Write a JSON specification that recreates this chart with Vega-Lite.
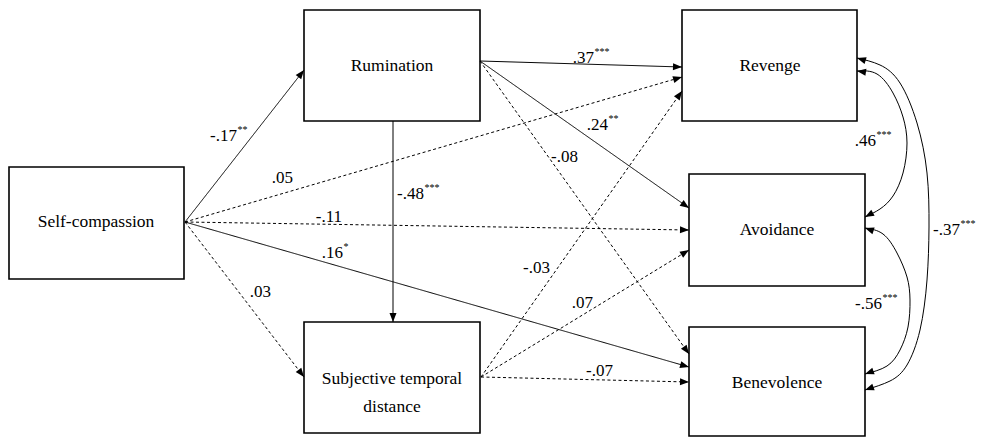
{
  "$schema": "https://vega.github.io/schema/vega-lite/v6.json",
  "width": 983,
  "height": 438,
  "padding": 0,
  "autosize": {"type": "fit", "contains": "padding"},
  "background": "white",
  "config": {"view": {"stroke": null}, "font": "Liberation Serif, Times New Roman, serif"},
  "datasets": {
    "nodes": [
      {"id": "Self-compassion", "x1": 9, "x2": 184, "y1": 167, "y2": 279, "tx": 96, "ty": 222},
      {"id": "Rumination", "x1": 304, "x2": 480, "y1": 10, "y2": 121, "tx": 392, "ty": 66},
      {"id": "Subjective temporal\ndistance", "x1": 304, "x2": 480, "y1": 322, "y2": 433, "tx": 392, "ty": 379},
      {"id": "Revenge", "x1": 682, "x2": 857, "y1": 10, "y2": 121, "tx": 770, "ty": 66},
      {"id": "Avoidance", "x1": 689, "x2": 865, "y1": 174, "y2": 286, "tx": 777, "ty": 230},
      {"id": "Benevolence", "x1": 689, "x2": 865, "y1": 327, "y2": 436, "tx": 777, "ty": 383}
    ],
    "edges": [
      {"from": "SC", "to": "Rum", "x1": 185, "y1": 222, "x2": 304, "y2": 70, "style": "solid"},
      {"from": "SC", "to": "Rev", "x1": 185, "y1": 222, "x2": 682, "y2": 77, "style": "dashed"},
      {"from": "SC", "to": "Avo", "x1": 185, "y1": 222, "x2": 689, "y2": 230, "style": "dashed"},
      {"from": "SC", "to": "Ben", "x1": 185, "y1": 222, "x2": 689, "y2": 367, "style": "solid"},
      {"from": "SC", "to": "STD", "x1": 185, "y1": 222, "x2": 304, "y2": 377, "style": "dashed"},
      {"from": "Rum", "to": "Rev", "x1": 480, "y1": 61, "x2": 682, "y2": 67, "style": "solid"},
      {"from": "Rum", "to": "Avo", "x1": 480, "y1": 61, "x2": 689, "y2": 208, "style": "solid"},
      {"from": "Rum", "to": "Ben", "x1": 480, "y1": 61, "x2": 689, "y2": 354, "style": "dashed"},
      {"from": "Rum", "to": "STD", "x1": 393, "y1": 121, "x2": 393, "y2": 322, "style": "solid"},
      {"from": "STD", "to": "Rev", "x1": 481, "y1": 377, "x2": 682, "y2": 91, "style": "dashed"},
      {"from": "STD", "to": "Avo", "x1": 481, "y1": 377, "x2": 689, "y2": 250, "style": "dashed"},
      {"from": "STD", "to": "Ben", "x1": 481, "y1": 377, "x2": 689, "y2": 382, "style": "dashed"}
    ],
    "curves": [
      {"c": "A", "i": 0, "x": 857, "y": 58},
      {"c": "A", "i": 1, "x": 880, "y": 65},
      {"c": "A", "i": 2, "x": 900, "y": 83},
      {"c": "A", "i": 3, "x": 917, "y": 123},
      {"c": "A", "i": 4, "x": 927, "y": 173},
      {"c": "A", "i": 5, "x": 929, "y": 227},
      {"c": "A", "i": 6, "x": 927, "y": 280},
      {"c": "A", "i": 7, "x": 920, "y": 330},
      {"c": "A", "i": 8, "x": 907, "y": 365},
      {"c": "A", "i": 9, "x": 890, "y": 381},
      {"c": "A", "i": 10, "x": 865, "y": 390},
      {"c": "B", "i": 0, "x": 857, "y": 71},
      {"c": "B", "i": 1, "x": 877, "y": 74},
      {"c": "B", "i": 2, "x": 893, "y": 93},
      {"c": "B", "i": 3, "x": 903, "y": 117},
      {"c": "B", "i": 4, "x": 907, "y": 143},
      {"c": "B", "i": 5, "x": 903, "y": 173},
      {"c": "B", "i": 6, "x": 893, "y": 196},
      {"c": "B", "i": 7, "x": 880, "y": 209},
      {"c": "B", "i": 8, "x": 865, "y": 217},
      {"c": "C", "i": 0, "x": 865, "y": 228},
      {"c": "C", "i": 1, "x": 883, "y": 234},
      {"c": "C", "i": 2, "x": 897, "y": 253},
      {"c": "C", "i": 3, "x": 907, "y": 277},
      {"c": "C", "i": 4, "x": 910, "y": 300},
      {"c": "C", "i": 5, "x": 908, "y": 327},
      {"c": "C", "i": 6, "x": 900, "y": 350},
      {"c": "C", "i": 7, "x": 887, "y": 366},
      {"c": "C", "i": 8, "x": 865, "y": 374}
    ],
    "cheads": [
      {"c": "A", "x1": 880, "y1": 65, "x2": 857, "y2": 58},
      {"c": "A", "x1": 890, "y1": 381, "x2": 865, "y2": 390},
      {"c": "B", "x1": 877, "y1": 74, "x2": 857, "y2": 71},
      {"c": "B", "x1": 880, "y1": 209, "x2": 865, "y2": 217},
      {"c": "C", "x1": 883, "y1": 234, "x2": 865, "y2": 228},
      {"c": "C", "x1": 887, "y1": 366, "x2": 865, "y2": 374}
    ],
    "labels": [
      {"v": "-.17", "s": "**", "x": 237, "y": 136},
      {"v": ".05", "s": "", "x": 293, "y": 178},
      {"v": "-.48", "s": "***", "x": 424, "y": 194},
      {"v": "-.11", "s": "", "x": 342, "y": 217},
      {"v": ".16", "s": "*", "x": 343, "y": 253},
      {"v": ".03", "s": "", "x": 271, "y": 292},
      {"v": ".37", "s": "***", "x": 594, "y": 58},
      {"v": ".24", "s": "**", "x": 608, "y": 125},
      {"v": "-.08", "s": "", "x": 578, "y": 157},
      {"v": "-.03", "s": "", "x": 550, "y": 268},
      {"v": ".07", "s": "", "x": 593, "y": 303},
      {"v": "-.07", "s": "", "x": 613, "y": 371},
      {"v": ".46", "s": "***", "x": 876, "y": 141},
      {"v": "-.37", "s": "***", "x": 960, "y": 230},
      {"v": "-.56", "s": "***", "x": 882, "y": 304}
    ]
  },
  "layer": [
    {
      "data": {"name": "nodes"},
      "mark": {"type": "rect", "fill": "white", "stroke": "#000", "strokeWidth": 1.6},
      "encoding": {
        "x": {"field": "x1", "type": "quantitative", "scale": {"domain": [0, 983], "nice": false, "zero": false}, "axis": null},
        "x2": {"field": "x2"},
        "y": {"field": "y1", "type": "quantitative", "scale": {"domain": [0, 438], "nice": false, "zero": false, "reverse": true}, "axis": null},
        "y2": {"field": "y2"}
      }
    },
    {
      "data": {"name": "edges"},
      "mark": {"type": "rule", "color": "#000", "strokeWidth": 1},
      "encoding": {
        "x": {"field": "x1", "type": "quantitative", "axis": null},
        "x2": {"field": "x2"},
        "y": {"field": "y1", "type": "quantitative", "axis": null},
        "y2": {"field": "y2"},
        "strokeDash": {"field": "style", "type": "nominal", "scale": {"domain": ["solid", "dashed"], "range": [[1, 0], [3, 2.5]]}, "legend": null}
      }
    },
    {
      "data": {"name": "curves"},
      "mark": {"type": "line", "color": "#000", "strokeWidth": 1, "interpolate": "natural"},
      "encoding": {
        "x": {"field": "x", "type": "quantitative", "axis": null},
        "y": {"field": "y", "type": "quantitative", "axis": null},
        "detail": {"field": "c"},
        "order": {"field": "i", "type": "quantitative"}
      }
    },
    {
      "data": {"name": "edges"},
      "transform": [{"calculate": "atan2(datum.x2 - datum.x1, -(datum.y2 - datum.y1)) * 180 / PI", "as": "ang"}],
      "mark": {"type": "point", "shape": "M0,0L-0.7,1.8L0.7,1.8Z", "filled": true, "color": "#000", "opacity": 1, "size": 100, "strokeWidth": 0},
      "encoding": {
        "x": {"field": "x2", "type": "quantitative", "axis": null},
        "y": {"field": "y2", "type": "quantitative", "axis": null},
        "angle": {"field": "ang", "type": "quantitative", "scale": null}
      }
    },
    {
      "data": {"name": "cheads"},
      "transform": [{"calculate": "atan2(datum.x2 - datum.x1, -(datum.y2 - datum.y1)) * 180 / PI", "as": "ang"}],
      "mark": {"type": "point", "shape": "M0,0L-0.7,1.8L0.7,1.8Z", "filled": true, "color": "#000", "opacity": 1, "size": 100, "strokeWidth": 0},
      "encoding": {
        "x": {"field": "x2", "type": "quantitative", "axis": null},
        "y": {"field": "y2", "type": "quantitative", "axis": null},
        "angle": {"field": "ang", "type": "quantitative", "scale": null}
      }
    },
    {
      "data": {"name": "nodes"},
      "mark": {"type": "text", "font": "Liberation Serif, Times New Roman, serif", "color": "#000", "fontSize": 17.5, "align": "center", "baseline": "middle", "lineBreak": "\n", "lineHeight": 28},
      "encoding": {
        "x": {"field": "tx", "type": "quantitative", "axis": null},
        "y": {"field": "ty", "type": "quantitative", "axis": null},
        "text": {"field": "id"}
      }
    },
    {
      "data": {"name": "labels"},
      "mark": {"type": "text", "font": "Liberation Serif, Times New Roman, serif", "color": "#000", "fontSize": 17, "align": "right", "baseline": "middle"},
      "encoding": {
        "x": {"field": "x", "type": "quantitative", "axis": null},
        "y": {"field": "y", "type": "quantitative", "axis": null},
        "text": {"field": "v"}
      }
    },
    {
      "data": {"name": "labels"},
      "mark": {"type": "text", "font": "Liberation Serif, Times New Roman, serif", "color": "#000", "fontSize": 10, "align": "left", "baseline": "middle", "dx": 0.5, "dy": -6},
      "encoding": {
        "x": {"field": "x", "type": "quantitative", "axis": null},
        "y": {"field": "y", "type": "quantitative", "axis": null},
        "text": {"field": "s"}
      }
    }
  ]
}
